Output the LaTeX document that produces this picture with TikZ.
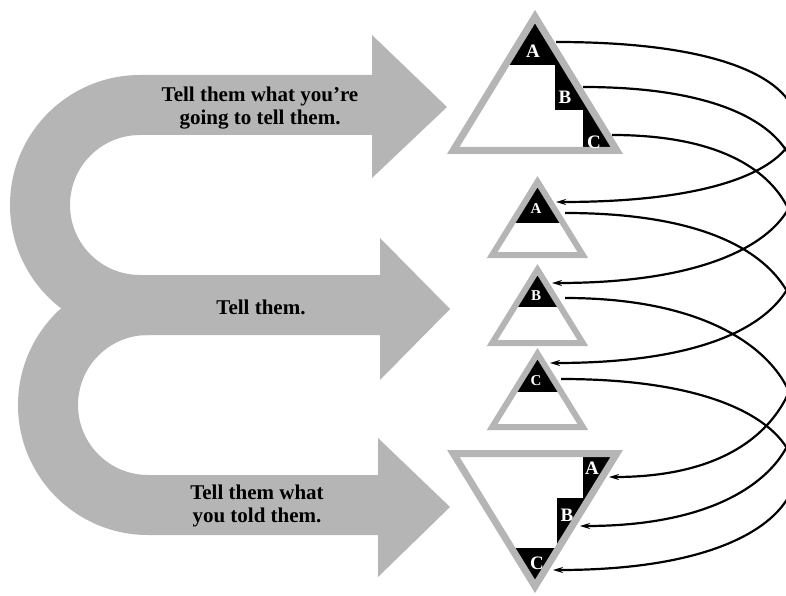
\documentclass[tikz,border=0pt]{standalone}
\usepackage{fontspec}
\setmainfont{Liberation Serif}
\usetikzlibrary{arrows.meta}
\definecolor{shade}{gray}{0.71}
\begin{document}
\begin{tikzpicture}[x=1pt,y=-1pt,
  band/.style={fill=shade, draw=none},
  bigtri/.style={draw=shade, line width=7pt, line join=miter},
  smalltri/.style={draw=shade, line width=6pt, line join=miter},
  lett/.style={text=white, font=\bfseries\fontsize{19}{19}\selectfont, inner sep=0pt},
  slett/.style={text=white, font=\bfseries\fontsize{15}{15}\selectfont, inner sep=0pt},
  bandtext/.style={font=\bfseries\fontsize{21}{23}\selectfont, align=center, inner sep=0pt},
  conn/.style={draw=black, line width=2.2pt, -{Stealth[length=10pt,width=6pt]}}
]
\useasboundingbox (0,0) rectangle (786,596);
\fill[white] (0,0) rectangle (786,596);

% ---------- big B-shaped arrow ----------
\fill[band] (140,75) -- (372,75) -- (372,35) -- (447,107) -- (372,178) -- (372,135) -- (140,135) -- cycle;
\fill[band] (140,75) .. controls (68.2,75) and (10,133.2) .. (10,205)
  .. controls (10,276.8) and (68.2,335) .. (140,335) -- (140,275)
  .. controls (101.3,275) and (70,243.7) .. (70,205)
  .. controls (70,166.3) and (101.3,135) .. (140,135) -- cycle;
\fill[band] (140,275) -- (380,275) -- (380,238) -- (450,309) -- (380,380) -- (380,335) -- (140,335) -- cycle;
\fill[band] (148,275) .. controls (76.2,275) and (18,333.2) .. (18,405)
  .. controls (18,476.8) and (76.2,535) .. (148,535) -- (148,475)
  .. controls (109.3,475) and (78,443.7) .. (78,405)
  .. controls (78,366.3) and (109.3,335) .. (148,335) -- cycle;
\fill[band] (148,475) -- (378,475) -- (378,438) -- (450,507) -- (378,577) -- (378,535) -- (148,535) -- cycle;

\node[bandtext] (txt1) at (260,108) {Tell them what you’re\\going to tell them.};
\node[bandtext] (txt2) at (261,307) {Tell them.};
\node[bandtext] (txt3) at (257,506) {Tell them what\\you told them.};

% ---------- top big triangle ----------
\fill[white] (535,16.7) -- (453.2,150.5) -- (616.8,150.5) -- cycle;
\begin{scope}
  \clip (535,16.7) -- (453.2,150.5) -- (616.8,150.5) -- cycle;
  \fill[black] (440,0) -- (640,0) -- (640,160) -- (583,160) -- (583,110) -- (555,110) -- (555,65) -- (440,65) -- cycle;
\end{scope}
\draw[bigtri] (535,16.7) -- (453.2,150.5) -- (616.8,150.5) -- cycle;
\node[lett] (bA) at (533,51) {A};
\node[lett] (bB) at (565,97) {B};
\node[lett] (bC) at (594,142) {C};

% ---------- small triangles ----------
\foreach \ap/\bs/\bk/\nm/\ly in {181.7/255/223/A/209, 269.7/343/307/B/296, 353.7/427/392/C/381}{
  \fill[white] (537.5,\ap) -- (492.2,\bs) -- (582.8,\bs) -- cycle;
  \begin{scope}
    \clip (537.5,\ap) -- (492.2,\bs) -- (582.8,\bs) -- cycle;
    \fill[black] (480,\ap-10) rectangle (600,\bk);
  \end{scope}
  \draw[smalltri] (537.5,\ap) -- (492.2,\bs) -- (582.8,\bs) -- cycle;
  \node[slett] (s\nm) at (536,\ly) {\nm};
}

% ---------- inverted big triangle ----------
\fill[white] (453.3,453.5) -- (616.7,453.5) -- (535,586.3) -- cycle;
\begin{scope}
  \clip (453.3,453.5) -- (616.7,453.5) -- (535,586.3) -- cycle;
  \fill[black] (583,440) -- (640,440) -- (640,600) -- (440,600) -- (440,548) -- (557,548) -- (557,498) -- (583,498) -- cycle;
\end{scope}
\draw[bigtri] (453.3,453.5) -- (616.7,453.5) -- (535,586.3) -- cycle;
\node[lett] (iA) at (592,468) {A};
\node[lett] (iB) at (567,515) {B};
\node[lett] (iC) at (537,563) {C};

% ---------- connector end points ----------
\coordinate (s1) at (556,42);
\coordinate (s2) at (583,87);
\coordinate (s3) at (612,135);
\coordinate (e1) at (556,202);
\coordinate (e2) at (552,283);
\coordinate (e3) at (550,363);
\coordinate (s4) at (565,213);
\coordinate (s5) at (565,298);
\coordinate (s6) at (561,379);
\coordinate (e4) at (609,477);
\coordinate (e5) at (580,526);
\coordinate (e6) at (553,570);
\coordinate (t1) at (796,123);
\coordinate (t2) at (796,182);
\coordinate (t3) at (798,251);
\coordinate (t4) at (800,340);
\coordinate (t5) at (795,417);
\coordinate (t6) at (795,474);

\begin{scope}
\clip (0,0) rectangle (786,596);
\draw[conn] (s1) .. controls +(187,0) and +(0,-34) .. (t1) .. controls +(0,34) and +(187,0) .. (e1);
\draw[conn] (s2) .. controls +(166,0) and +(0,-40) .. (t2) .. controls +(0,40) and +(190,0) .. (e2);
\draw[conn] (s3) .. controls +(145,0) and +(0,-52) .. (t3) .. controls +(0,52) and +(193,0) .. (e3);
\draw[conn] (s4) .. controls +(183,0) and +(0,-60) .. (t4) .. controls +(0,60) and +(149,0) .. (e4);
\draw[conn] (s5) .. controls +(179,0) and +(0,-38) .. (t5) .. controls +(0,38) and +(167,0) .. (e5);
\draw[conn] (s6) .. controls +(183,0) and +(0,-36) .. (t6) .. controls +(0,36) and +(188,0) .. (e6);
\end{scope}
\end{tikzpicture}
\end{document}
